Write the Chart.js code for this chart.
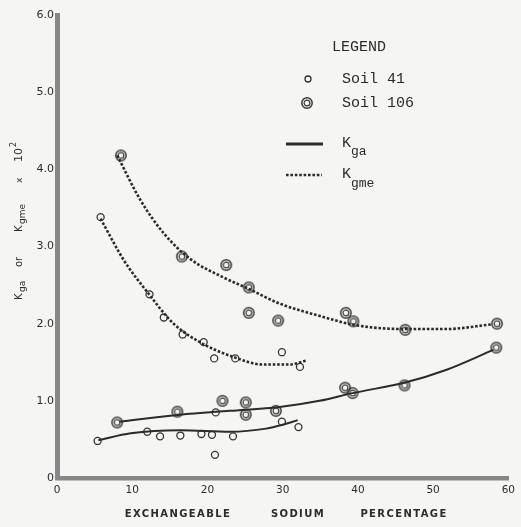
<!DOCTYPE html>
<html><head><meta charset="utf-8">
<script src="https://cdn.jsdelivr.net/npm/chart.js@4"></script>
<style>html,body{margin:0;padding:0;background:#f5f5f3;}#wrap{width:521px;height:527px;}</style>
</head><body><div id="wrap"><canvas id="c" width="521" height="527"></canvas></div>
<script>
// ---- tick labels ----
const xTickLabels = ['0','10','20','30','40','50','60'];
const yTickLabels = ['0','1.0','2.0','3.0','4.0','5.0','6.0'];
const xTitleWords = ['EXCHANGEABLE','SODIUM','PERCENTAGE'];

// ---- Soil 41 (single circles) ----
const soil41KgaX  = [5.4, 12.0, 13.7, 16.4, 19.2, 20.6, 23.4, 21.1, 21.0, 29.9, 32.1];
const soil41KgaY  = [0.48, 0.60, 0.54, 0.55, 0.57, 0.56, 0.54, 0.85, 0.30, 0.73, 0.66];
const soil41KgmeX = [5.8, 12.3, 14.2, 16.7, 19.5, 20.9, 23.7, 29.9, 32.3];
const soil41KgmeY = [3.38, 2.38, 2.08, 1.86, 1.76, 1.55, 1.55, 1.63, 1.44];

// ---- Soil 106 (double circles) ----
const soil106KgaX  = [8.0, 16.0, 22.0, 25.1, 25.1, 29.1, 38.3, 39.3, 46.2, 58.4];
const soil106KgaY  = [0.72, 0.86, 1.00, 0.98, 0.82, 0.87, 1.17, 1.10, 1.20, 1.69];
const soil106KgmeX = [8.5, 16.6, 22.5, 25.5, 25.5, 29.4, 38.4, 39.4, 46.3, 58.5];
const soil106KgmeY = [4.18, 2.87, 2.76, 2.47, 2.14, 2.04, 2.14, 2.03, 1.92, 2.00];

// ---- fitted curves ----
const curve41KgaX   = [5.5, 9.8, 16.4, 23.0, 27.8, 30.0, 32.0];
const curve41KgaY   = [0.49, 0.58, 0.62, 0.60, 0.64, 0.69, 0.75];
const curve106KgaX  = [8.3, 16.4, 23.0, 29.6, 34.9, 39.3, 46.4, 51.7, 58.0];
const curve106KgaY  = [0.73, 0.82, 0.87, 0.92, 1.00, 1.10, 1.24, 1.40, 1.66];
const curve41KgmeX  = [5.8, 8.9, 12.0, 15.5, 19.0, 23.4, 27.4, 30.9, 33.1];
const curve41KgmeY  = [3.36, 2.82, 2.41, 2.00, 1.76, 1.57, 1.47, 1.47, 1.52];
const curve106KgmeX = [8.0, 11.1, 14.2, 17.7, 22.1, 25.5, 29.6, 35.3, 39.7, 46.4, 51.7, 57.7];
const curve106KgmeY = [4.18, 3.60, 3.17, 2.84, 2.60, 2.45, 2.26, 2.09, 1.98, 1.93, 1.93, 1.99];

const zip = (xs, ys) => xs.map((x, i) => ({x, y: ys[i]}));
const INK = '#2b2b2b';

function ringStyle() {
  const c = document.createElement('canvas');
  c.width = 14; c.height = 14;
  const g = c.getContext('2d');
  g.strokeStyle = '#3a3a3a'; g.lineWidth = 1.5;
  g.beginPath(); g.arc(7, 7, 5.2, 0, 2 * Math.PI); g.stroke();
  g.lineWidth = 1.2;
  g.beginPath(); g.arc(7, 7, 2.9, 0, 2 * Math.PI); g.stroke();
  return c;
}
const RING = ringStyle();

const solid = {showLine: true, pointRadius: 0, borderColor: INK, borderWidth: 2, cubicInterpolationMode: 'monotone', fill: false};
const dotted = {showLine: true, pointRadius: 0, borderColor: INK, borderWidth: 2.6, borderDash: [2.6, 1.8], borderCapStyle: 'butt', cubicInterpolationMode: 'monotone', fill: false};
const single = {showLine: false, pointStyle: 'circle', pointRadius: 3.5, pointBorderWidth: 1.3, pointBorderColor: '#333', pointBackgroundColor: 'rgba(0,0,0,0)'};
const dbl = {showLine: false, pointStyle: RING, pointRadius: 5};

const annot = {
  id: 'annot',
  afterDraw(chart) {
    const ctx = chart.ctx;
    ctx.save();
    ctx.fillStyle = INK;
    // x axis title
    ctx.font = 'bold 10px "DejaVu Sans"';
    ctx.textAlign = 'center'; ctx.textBaseline = 'middle';
    ctx.letterSpacing = '1.4px';
    const wx = [178, 298, 404];
    xTitleWords.forEach((w, i) => ctx.fillText(w, wx[i], 514));
    ctx.letterSpacing = '0px';

    // y axis title (rotated)
    ctx.save();
    ctx.translate(22, 300);
    ctx.rotate(-Math.PI / 2);
    ctx.textAlign = 'left'; ctx.textBaseline = 'alphabetic';
    const seg = (t, d, f, dy) => { ctx.font = f; ctx.fillText(t, d, dy); };
    seg('K', 0, '10px "DejaVu Sans"', 0);
    seg('ga', 8, '9px "DejaVu Sans"', 3);
    seg('or', 33, '10px "DejaVu Sans"', 0);
    seg('K', 68, '10px "DejaVu Sans"', 0);
    seg('gme', 76, '9px "DejaVu Sans"', 3);
    seg('x', 117, '9px "DejaVu Sans"', 0);
    seg('10', 138, '11px "DejaVu Sans"', 0);
    seg('2', 153, '8px "DejaVu Sans"', -6);
    ctx.restore();

    // legend
    ctx.textAlign = 'left'; ctx.textBaseline = 'middle';
    ctx.font = '15px "Liberation Mono"';
    ctx.fillText('LEGEND', 332, 47);
    ctx.fillText('Soil 41', 342, 79);
    ctx.fillText('Soil 106', 342, 103);
    ctx.fillText('K', 342, 143);
    ctx.fillText('K', 342, 174);
    ctx.font = '13px "Liberation Mono"';
    ctx.fillText('ga', 351, 152);
    ctx.fillText('gme', 351, 184);
    // legend markers
    ctx.strokeStyle = '#333'; ctx.lineWidth = 1.3;
    ctx.beginPath(); ctx.arc(308, 79, 3, 0, 2 * Math.PI); ctx.stroke();
    ctx.drawImage(RING, 307 - 7, 103 - 7);
    ctx.strokeStyle = INK;
    ctx.lineWidth = 3; ctx.setLineDash([]);
    ctx.beginPath(); ctx.moveTo(286, 144); ctx.lineTo(323, 144); ctx.stroke();
    ctx.lineWidth = 2.6; ctx.setLineDash([2.6, 1.8]);
    ctx.beginPath(); ctx.moveTo(286, 175); ctx.lineTo(322, 175); ctx.stroke();
    ctx.restore();
  }
};

new Chart(document.getElementById('c'), {
  type: 'scatter',
  data: {
    datasets: [
      Object.assign({label: 'Kga Soil 41 curve', data: zip(curve41KgaX, curve41KgaY)}, solid),
      Object.assign({label: 'Kga Soil 106 curve', data: zip(curve106KgaX, curve106KgaY)}, solid),
      Object.assign({label: 'Kgme Soil 41 curve', data: zip(curve41KgmeX, curve41KgmeY)}, dotted),
      Object.assign({label: 'Kgme Soil 106 curve', data: zip(curve106KgmeX, curve106KgmeY)}, dotted),
      Object.assign({label: 'Soil 41 Kga', data: zip(soil41KgaX, soil41KgaY)}, single),
      Object.assign({label: 'Soil 41 Kgme', data: zip(soil41KgmeX, soil41KgmeY)}, single),
      Object.assign({label: 'Soil 106 Kga', data: zip(soil106KgaX, soil106KgaY)}, dbl),
      Object.assign({label: 'Soil 106 Kgme', data: zip(soil106KgmeX, soil106KgmeY)}, dbl)
    ]
  },
  options: {
    responsive: false,
    animation: false,
    layout: {padding: {top: 15, right: 12, left: 0, bottom: 0}},
    plugins: {legend: {display: false}, tooltip: {enabled: false}},
    scales: {
      x: {
        type: 'linear', min: 0, max: 60,
        afterFit(s) { s.height = 49; },
        grid: {display: false, drawTicks: false},
        border: {display: true, color: '#878787', width: 4.5},
        ticks: {stepSize: 10, padding: 6, color: INK, font: {family: 'DejaVu Sans', size: 10.5},
          maxRotation: 0, callback: v => xTickLabels[Math.round(v / 10)]}
      },
      y: {
        type: 'linear', min: 0, max: 6,
        afterFit(s) { s.width = 57; },
        grid: {display: false, drawTicks: false},
        border: {display: true, color: '#878787', width: 5},
        ticks: {stepSize: 1, padding: 3, color: INK, font: {family: 'DejaVu Sans', size: 11},
          callback: v => yTickLabels[Math.round(v)]}
      }
    }
  },
  plugins: [annot]
});
</script>
</body></html>
